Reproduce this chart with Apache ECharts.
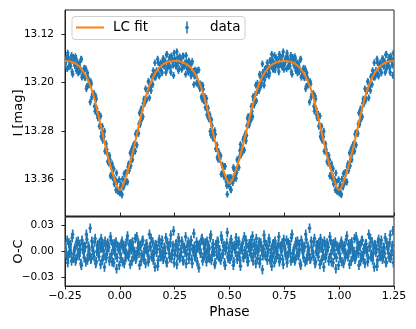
<!DOCTYPE html>
<html>
<head>
<meta charset="utf-8">
<script src="https://cdn.jsdelivr.net/npm/echarts@6/dist/echarts.min.js"></script>
<style>
  html, body { margin: 0; padding: 0; background: #fff; }
  #chart { width: 416px; height: 329px; }
</style>
</head>
<body>
<div id="chart"></div>
<script>
// LC fit, sampled every 0.025 in phase
const fitPhase = [
  -0.25, -0.225, -0.2, -0.175, -0.15, -0.125, -0.1, -0.075, -0.05, -0.025,
  0, 0.025, 0.05, 0.075, 0.1, 0.125, 0.15, 0.175, 0.2, 0.225,
  0.25, 0.275, 0.3, 0.325, 0.35, 0.375, 0.4, 0.425, 0.45, 0.475,
  0.5, 0.525, 0.55, 0.575, 0.6, 0.625, 0.65, 0.675, 0.7, 0.725,
  0.75, 0.775, 0.8, 0.825, 0.85, 0.875, 0.9, 0.925, 0.95, 0.975,
  1, 1.025, 1.05, 1.075, 1.1, 1.125, 1.15, 1.175, 1.2, 1.225, 1.25
];
const fitMag = [
  13.164, 13.165, 13.169, 13.177, 13.192, 13.215, 13.250, 13.290, 13.328, 13.358,
  13.377, 13.358, 13.328, 13.290, 13.250, 13.215, 13.192, 13.177, 13.169, 13.165,
  13.164, 13.165, 13.169, 13.176, 13.190, 13.212, 13.245, 13.283, 13.319, 13.348,
  13.366, 13.348, 13.319, 13.283, 13.245, 13.212, 13.190, 13.176, 13.169, 13.165,
  13.164, 13.165, 13.169, 13.177, 13.192, 13.215, 13.250, 13.290, 13.328, 13.358,
  13.377, 13.358, 13.328, 13.290, 13.250, 13.215, 13.192, 13.177, 13.169, 13.165, 13.164
];

// observations in 0.005 phase bins (0.000 .. 0.995), two per bin
const obsStep = 0.005;
const obsMagA = [
  13.382, 13.368, 13.385, 13.372, 13.350, 13.365, 13.350, 13.364, 13.334, 13.335,
  13.337, 13.309, 13.317, 13.302, 13.313, 13.283, 13.282, 13.284, 13.250, 13.264,
  13.246, 13.256, 13.227, 13.230, 13.229, 13.214, 13.198, 13.225, 13.205, 13.190,
  13.203, 13.186, 13.167, 13.189, 13.183, 13.167, 13.189, 13.169, 13.181, 13.170,
  13.162, 13.172, 13.183, 13.153, 13.172, 13.163, 13.175, 13.156, 13.165, 13.188,
  13.160, 13.172, 13.149, 13.167, 13.177, 13.159, 13.165, 13.175, 13.156, 13.173,
  13.186, 13.166, 13.178, 13.164, 13.176, 13.189, 13.165, 13.181, 13.189, 13.182,
  13.201, 13.198, 13.179, 13.210, 13.205, 13.227, 13.211, 13.228, 13.241, 13.226,
  13.246, 13.259, 13.253, 13.286, 13.271, 13.292, 13.290, 13.285, 13.309, 13.323,
  13.313, 13.327, 13.321, 13.350, 13.339, 13.355, 13.338, 13.363, 13.384, 13.357,
  13.366, 13.376, 13.357, 13.365, 13.342, 13.351, 13.358, 13.327, 13.339, 13.323,
  13.302, 13.316, 13.314, 13.291, 13.292, 13.296, 13.271, 13.256, 13.270, 13.255,
  13.239, 13.256, 13.228, 13.232, 13.204, 13.216, 13.207, 13.213, 13.189, 13.200,
  13.169, 13.190, 13.195, 13.176, 13.187, 13.175, 13.189, 13.163, 13.173, 13.162,
  13.178, 13.155, 13.172, 13.167, 13.162, 13.182, 13.157, 13.167, 13.174, 13.149,
  13.170, 13.162, 13.177, 13.158, 13.165, 13.173, 13.155, 13.186, 13.164, 13.172,
  13.160, 13.177, 13.184, 13.169, 13.177, 13.161, 13.189, 13.181, 13.191, 13.177,
  13.206, 13.192, 13.203, 13.232, 13.202, 13.220, 13.219, 13.239, 13.222, 13.243,
  13.258, 13.252, 13.270, 13.289, 13.272, 13.291, 13.280, 13.312, 13.310, 13.330,
  13.333, 13.327, 13.353, 13.334, 13.354, 13.367, 13.360, 13.349, 13.379, 13.379
];
const obsMagB = [
  13.373, 13.383, 13.359, 13.372, 13.362, 13.348, 13.363, 13.339, 13.345, 13.316,
  13.326, 13.327, 13.303, 13.301, 13.285, 13.303, 13.282, 13.268, 13.269, 13.243,
  13.258, 13.234, 13.235, 13.210, 13.227, 13.213, 13.199, 13.208, 13.213, 13.191,
  13.180, 13.191, 13.191, 13.180, 13.161, 13.187, 13.176, 13.167, 13.184, 13.160,
  13.173, 13.165, 13.154, 13.176, 13.168, 13.158, 13.183, 13.160, 13.171, 13.151,
  13.165, 13.173, 13.159, 13.180, 13.157, 13.167, 13.178, 13.156, 13.171, 13.167,
  13.155, 13.176, 13.183, 13.170, 13.183, 13.168, 13.183, 13.203, 13.179, 13.189,
  13.180, 13.203, 13.204, 13.202, 13.223, 13.204, 13.230, 13.223, 13.233, 13.253,
  13.242, 13.260, 13.280, 13.261, 13.284, 13.287, 13.279, 13.309, 13.303, 13.326,
  13.324, 13.320, 13.351, 13.336, 13.351, 13.338, 13.357, 13.370, 13.357, 13.369,
  13.356, 13.377, 13.363, 13.340, 13.358, 13.344, 13.348, 13.328, 13.340, 13.312,
  13.319, 13.309, 13.294, 13.311, 13.284, 13.287, 13.259, 13.269, 13.257, 13.262,
  13.247, 13.223, 13.237, 13.219, 13.230, 13.201, 13.207, 13.186, 13.206, 13.193,
  13.183, 13.204, 13.178, 13.187, 13.167, 13.177, 13.184, 13.166, 13.153, 13.177,
  13.167, 13.179, 13.159, 13.170, 13.174, 13.153, 13.170, 13.164, 13.155, 13.178,
  13.167, 13.159, 13.151, 13.174, 13.170, 13.163, 13.182, 13.158, 13.168, 13.157,
  13.180, 13.167, 13.172, 13.182, 13.162, 13.191, 13.183, 13.176, 13.192, 13.210,
  13.184, 13.204, 13.199, 13.198, 13.224, 13.219, 13.218, 13.247, 13.227, 13.253,
  13.252, 13.272, 13.255, 13.282, 13.295, 13.289, 13.313, 13.301, 13.316, 13.330,
  13.320, 13.354, 13.340, 13.357, 13.342, 13.363, 13.377, 13.364, 13.379, 13.360
];
// residuals O-C for the same points
const ocResA = [
  0.005, -0.008, 0.012, 0.003, -0.014, 0.007, -0.002, 0.018, -0.006, 0.001,
  0.009, -0.011, 0.004, -0.003, 0.015, -0.007, 0.000, 0.010, -0.016, 0.006,
  -0.004, 0.013, -0.009, 0.002, 0.008, -0.001, -0.012, 0.020, 0.005, -0.006,
  0.011, -0.003, -0.018, 0.007, 0.003, -0.010, 0.014, -0.005, 0.009, 0.000,
  -0.007, 0.004, 0.016, -0.013, 0.006, -0.002, 0.010, -0.008, 0.001, 0.024,
  -0.004, 0.008, -0.015, 0.003, 0.012, -0.006, -0.001, 0.009, -0.011, 0.005,
  0.017, -0.003, 0.007, -0.009, 0.002, 0.013, -0.014, 0.000, 0.006, -0.005,
  0.011, 0.004, -0.019, 0.008, -0.002, 0.015, -0.007, 0.003, 0.010, -0.012,
  0.001, 0.006, -0.008, 0.019, -0.004, 0.009, -0.001, -0.013, 0.005, 0.012,
  -0.006, 0.002, -0.010, 0.014, -0.003, 0.007, -0.016, 0.004, 0.022, -0.008,
  0.000, 0.011, -0.005, 0.006, -0.012, 0.003, 0.016, -0.009, 0.008, -0.002,
  -0.017, 0.005, 0.010, -0.007, 0.001, 0.013, -0.004, -0.011, 0.009, 0.002,
  -0.006, 0.018, -0.003, 0.007, -0.014, 0.004, 0.000, 0.011, -0.009, 0.006,
  -0.021, 0.003, 0.012, -0.005, 0.008, -0.001, 0.015, -0.010, 0.002, -0.007,
  0.009, -0.013, 0.005, 0.001, -0.004, 0.017, -0.008, 0.003, 0.010, -0.015,
  0.006, -0.002, 0.013, -0.006, 0.000, 0.008, -0.011, 0.020, -0.003, 0.004,
  -0.009, 0.007, 0.012, -0.005, 0.002, -0.016, 0.009, -0.001, 0.006, -0.012,
  0.014, -0.004, 0.003, 0.027, -0.008, 0.005, -0.002, 0.011, -0.014, 0.000,
  0.008, -0.006, 0.004, 0.015, -0.010, 0.001, -0.018, 0.007, -0.003, 0.010,
  0.005, -0.007, 0.013, -0.012, 0.002, 0.009, -0.004, -0.020, 0.006, 0.003
];
const ocResB = [
  -0.003, 0.009, -0.012, 0.006, 0.001, -0.007, 0.014, -0.004, 0.008, -0.015,
  0.002, 0.011, -0.006, 0.000, -0.009, 0.017, 0.004, -0.002, 0.007, -0.011,
  0.012, -0.005, 0.003, -0.014, 0.009, 0.001, -0.008, 0.006, 0.015, -0.003,
  -0.010, 0.004, 0.008, -0.001, -0.017, 0.011, 0.002, -0.006, 0.013, -0.009,
  0.005, -0.002, -0.012, 0.010, 0.003, -0.007, 0.019, -0.004, 0.007, -0.013,
  0.001, 0.009, -0.005, 0.016, -0.008, 0.002, 0.012, -0.010, 0.004, -0.001,
  -0.014, 0.006, 0.011, -0.003, 0.008, -0.009, 0.003, 0.021, -0.006, 0.001,
  -0.012, 0.007, 0.004, -0.002, 0.014, -0.011, 0.009, -0.005, -0.001, 0.012,
  -0.007, 0.003, 0.016, -0.010, 0.005, 0.000, -0.015, 0.008, -0.004, 0.011,
  0.002, -0.008, 0.018, -0.003, 0.006, -0.013, 0.001, 0.010, -0.006, 0.004,
  -0.009, 0.014, 0.003, -0.016, 0.007, -0.001, 0.009, -0.005, 0.012, -0.010,
  0.004, 0.002, -0.007, 0.017, -0.003, 0.008, -0.012, 0.005, 0.000, 0.013,
  0.006, -0.011, 0.009, -0.002, 0.015, -0.008, 0.003, -0.014, 0.010, 0.001,
  -0.005, 0.019, -0.004, 0.007, -0.010, 0.002, 0.011, -0.006, -0.017, 0.008,
  -0.001, 0.012, -0.007, 0.004, 0.009, -0.012, 0.006, 0.000, -0.009, 0.014,
  0.003, -0.005, -0.013, 0.010, 0.005, -0.002, 0.016, -0.008, 0.001, -0.011,
  0.011, -0.004, -0.001, 0.008, -0.014, 0.013, 0.002, -0.007, 0.005, 0.020,
  -0.010, 0.006, -0.003, -0.009, 0.012, 0.001, -0.006, 0.015, -0.012, 0.007,
  -0.002, 0.010, -0.015, 0.004, 0.009, -0.005, 0.012, -0.008, 0.000, 0.006,
  -0.011, 0.017, -0.003, 0.008, -0.013, 0.002, 0.011, -0.007, 0.005, -0.016
];
const magErr = 0.0055;

const xTicks = [-0.25, 0, 0.25, 0.5, 0.75, 1, 1.25];
const magTicks = [13.12, 13.20, 13.28, 13.36];
const ocTicks = [-0.03, 0, 0.03];

const blue = '#1f77b4', orange = '#ff7f0e';
const font = 'DejaVu Sans';

// fold: show phases -0.25..1.25 (repeat the wrapped parts)
function folded(vals, offset, out) {
  vals.forEach(function (v, i) {
    let ph = +(i * obsStep + offset).toFixed(4);
    out.push([ph, v, magErr]);
    if (ph <= 0.25) out.push([ph + 1, v, magErr]);
    if (ph >= 0.75) out.push([ph - 1, v, magErr]);
  });
  return out;
}
let lcData = folded(obsMagB, obsStep / 2, folded(obsMagA, 0, []));
let ocData = folded(ocResB, obsStep / 2, folded(ocResA, 0, []));

function fmt(v) {
  return (v < 0 ? '\u2212' : '') + Math.abs(v).toFixed(2);
}

function errorBar(params, api) {
  let x = api.value(0), y = api.value(1), e = api.value(2);
  let lo = api.coord([x, y - e]);
  let hi = api.coord([x, y + e]);
  let c = api.coord([x, y]);
  return {
    type: 'group',
    children: [
      { type: 'line', shape: { x1: lo[0], y1: lo[1], x2: hi[0], y2: hi[1] }, style: { stroke: blue, lineWidth: 1.7 } },
      { type: 'circle', shape: { cx: c[0], cy: c[1], r: 1.8 }, style: { fill: blue } }
    ]
  };
}

let myChart = echarts.init(document.getElementById('chart'), null, { renderer: 'canvas' });

let option = {
  animation: false,
  textStyle: { fontFamily: font, color: '#000' },
  grid: [
    { left: 65, top: 10, width: 329, height: 206, show: true, borderColor: '#222', borderWidth: 1, outerBoundsMode: 'none' },
    { left: 65, top: 217, width: 329, height: 69, show: true, borderColor: '#222', borderWidth: 1, outerBoundsMode: 'none' }
  ],
  xAxis: [
    {
      gridIndex: 0, type: 'value', min: -0.25, max: 1.25, interval: 0.25,
      axisLine: { onZero: false, lineStyle: { color: '#222' } },
      axisTick: { inside: true, length: 3.5, lineStyle: { color: '#222' } },
      axisLabel: { show: false },
      splitLine: { show: false }
    },
    {
      gridIndex: 1, type: 'value', min: -0.25, max: 1.25, interval: 0.25,
      axisLine: { onZero: false, lineStyle: { color: '#222' } },
      axisTick: { length: 3.5, lineStyle: { color: '#222' } },
      axisLabel: { fontSize: 11, color: '#000', margin: 5, formatter: fmt, fontFamily: font },
      splitLine: { show: false },
      name: 'Phase', nameLocation: 'middle', nameGap: 19, nameMoveOverlap: false,
      nameTextStyle: { fontSize: 13.5, color: '#000', fontFamily: font }
    }
  ],
  yAxis: [
    {
      gridIndex: 0, type: 'value', inverse: true, min: 13.08, max: 13.42,
      axisLine: { show: true, onZero: false, lineStyle: { color: '#222' } },
      axisTick: { show: true, length: 3.5, customValues: magTicks, lineStyle: { color: '#222' } },
      axisLabel: { fontSize: 10.5, color: '#000', margin: 11, customValues: magTicks, formatter: fmt, fontFamily: font },
      splitLine: { show: false },
      name: 'I [mag]', nameLocation: 'middle', nameGap: 40, nameRotate: 90, nameMoveOverlap: false,
      nameTextStyle: { fontSize: 13, color: '#000', fontFamily: font }
    },
    {
      gridIndex: 1, type: 'value', min: -0.04, max: 0.04,
      axisLine: { show: true, onZero: false, lineStyle: { color: '#222' } },
      axisTick: { show: true, length: 3.5, customValues: ocTicks, lineStyle: { color: '#222' } },
      axisLabel: { fontSize: 10.5, color: '#000', margin: 11, customValues: ocTicks, formatter: fmt, fontFamily: font },
      splitLine: { show: false },
      name: 'O-C', nameLocation: 'middle', nameGap: 40, nameRotate: 90, nameMoveOverlap: false,
      nameTextStyle: { fontSize: 13, color: '#000', fontFamily: font }
    }
  ],
  graphic: [
    { type: 'rect', shape: { x: 72, y: 16.5, width: 173, height: 23, r: 3 }, style: { fill: 'rgba(255,255,255,0.8)', stroke: '#d0d0d0', lineWidth: 1 }, z: 100 },
    { type: 'line', shape: { x1: 76, y1: 27.5, x2: 104, y2: 27.5 }, style: { stroke: orange, lineWidth: 2 }, z: 101 },
    { type: 'text', x: 113, y: 27.5, style: { text: 'LC fit', font: '13.5px "DejaVu Sans"', fill: '#000', textVerticalAlign: 'middle' }, z: 101 },
    { type: 'line', shape: { x1: 187, y1: 21.5, x2: 187, y2: 33.5 }, style: { stroke: blue, lineWidth: 1.5 }, z: 101 },
    { type: 'circle', shape: { cx: 187, cy: 27.5, r: 1.8 }, style: { fill: blue }, z: 101 },
    { type: 'text', x: 210, y: 27.5, style: { text: 'data', font: '13.5px "DejaVu Sans"', fill: '#000', textVerticalAlign: 'middle' }, z: 101 }
  ],
  series: [
    {
      name: 'data', type: 'custom', xAxisIndex: 0, yAxisIndex: 0,
      renderItem: errorBar, clip: true, encode: { x: 0, y: 1 },
      data: lcData
    },
    {
      name: 'LC fit', type: 'line', xAxisIndex: 0, yAxisIndex: 0,
      data: fitPhase.map(function (p, i) { return [p, fitMag[i]]; }),
      showSymbol: false, smooth: 0.4, z: 5,
      lineStyle: { color: orange, width: 2 }
    },
    {
      name: 'O-C', type: 'custom', xAxisIndex: 1, yAxisIndex: 1,
      renderItem: errorBar, clip: true, encode: { x: 0, y: 1 },
      data: ocData
    }
  ]
};
myChart.setOption(option);
</script>
</body>
</html>
